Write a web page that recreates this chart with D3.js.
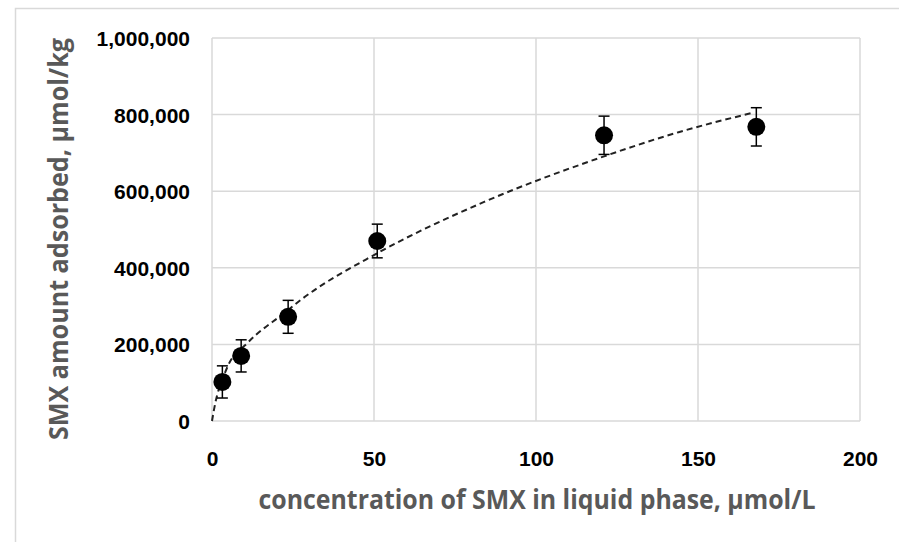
<!DOCTYPE html>
<html>
<head>
<meta charset="utf-8">
<script src="https://cdn.jsdelivr.net/npm/d3@7"></script>
<style>
  body { margin: 0; background: #fff; }
  svg { display: block; }
</style>
</head>
<body>
<div id="chart"></div>
<script>
// measured points (concentration in liquid phase, amount adsorbed, error)
var conc = [3.2, 9, 23.5, 51, 121, 168];
var adsorbed = [102000, 170000, 272000, 470000, 746000, 768000];
var errs = [42000, 42000, 43000, 44000, 50000, 50000];

// fitted dashed curve
var fitConc = [0, 0.6, 4.6, 11, 22, 28, 51, 84, 121, 144, 167];
var fitQ = [0, 29000, 138000, 204000, 280000, 320000, 438000, 572000, 691000, 754000, 805000];

var xTicks = [0, 50, 100, 150, 200];
var yTicks = [0, 200000, 400000, 600000, 800000, 1000000];

var W = 899, H = 542;
var plot = {left: 212, right: 860, top: 38, bottom: 421};

var svg = d3.select("#chart")
  .append("svg")
    .attr("width", W)
    .attr("height", H);

// outer frame
svg.append("rect")
  .attr("x", 15.5).attr("y", 8.5)
  .attr("width", W).attr("height", H)
  .attr("fill", "none")
  .attr("stroke", "#d9d9d9")
  .attr("stroke-width", 1.5);

var x = d3.scaleLinear().domain([0, 200]).range([plot.left, plot.right]);
var y = d3.scaleLinear().domain([0, 1000000]).range([plot.bottom, plot.top]);

// grid
svg.append("g")
  .selectAll("line")
  .data(xTicks)
  .join("line")
    .attr("x1", function(d) { return x(d); })
    .attr("x2", function(d) { return x(d); })
    .attr("y1", plot.top)
    .attr("y2", plot.bottom)
    .attr("stroke", "#d9d9d9")
    .attr("stroke-width", 1.5);

svg.append("g")
  .selectAll("line")
  .data(yTicks)
  .join("line")
    .attr("x1", plot.left)
    .attr("x2", plot.right)
    .attr("y1", function(d) { return y(d); })
    .attr("y2", function(d) { return y(d); })
    .attr("stroke", "#d9d9d9")
    .attr("stroke-width", 1.5);

// axes (labels only)
var fmt = d3.format(",");
var yAxis = svg.append("g")
  .attr("transform", "translate(" + (plot.left - 22) + ",0)")
  .call(d3.axisLeft(y).tickValues(yTicks).tickFormat(fmt).tickSize(0).tickPadding(0));
yAxis.select(".domain").remove();
yAxis.selectAll("text")
  .attr("dy", "0.36em")
  .style("font-family", "Liberation Sans, Arial, sans-serif")
  .style("font-weight", "bold")
  .style("font-size", "21px")
  .attr("fill", "#000");

var xAxis = svg.append("g")
  .attr("transform", "translate(0," + (plot.bottom + 30) + ")")
  .call(d3.axisBottom(x).tickValues(xTicks).tickSize(0).tickPadding(0));
xAxis.select(".domain").remove();
xAxis.selectAll("text")
  .attr("dy", "0.71em")
  .style("font-family", "Liberation Sans, Arial, sans-serif")
  .style("font-weight", "bold")
  .style("font-size", "21px")
  .attr("fill", "#000");

// axis titles
svg.append("text")
  .attr("x", 537)
  .attr("y", 509)
  .attr("text-anchor", "middle")
  .attr("textLength", 557)
  .attr("lengthAdjust", "spacingAndGlyphs")
  .style("font-family", "Open Sans, sans-serif")
  .style("font-weight", "bold")
  .style("font-size", "26px")
  .attr("fill", "#595959")
  .text("concentration of SMX in liquid phase, \u03bcmol/L");

svg.append("text")
  .attr("transform", "translate(68,239) rotate(-90)")
  .attr("text-anchor", "middle")
  .attr("textLength", 402)
  .attr("lengthAdjust", "spacingAndGlyphs")
  .style("font-family", "Open Sans, sans-serif")
  .style("font-weight", "bold")
  .style("font-size", "26px")
  .attr("fill", "#595959")
  .text("SMX amount adsorbed, \u03bcmol/kg");

// fitted curve
var fitData = fitConc.map(function(c, i) { return {c: c, q: fitQ[i]}; });
svg.append("path")
  .datum(fitData)
  .attr("fill", "none")
  .attr("stroke", "#222")
  .attr("stroke-width", 2)
  .attr("stroke-dasharray", "6,4")
  .attr("d", d3.line()
    .curve(d3.curveMonotoneX)
    .x(function(d) { return x(d.c); })
    .y(function(d) { return y(d.q); }));

// error bars + markers
var pts = conc.map(function(c, i) { return {c: c, q: adsorbed[i], e: errs[i]}; });
var g = svg.append("g").selectAll("g").data(pts).join("g");

g.append("line")
  .attr("x1", function(d) { return x(d.c); })
  .attr("x2", function(d) { return x(d.c); })
  .attr("y1", function(d) { return y(d.q + d.e); })
  .attr("y2", function(d) { return y(d.q - d.e); })
  .attr("stroke", "#000").attr("stroke-width", 1.5);

[1, -1].forEach(function(s) {
  g.append("line")
    .attr("x1", function(d) { return x(d.c) - 5.5; })
    .attr("x2", function(d) { return x(d.c) + 5.5; })
    .attr("y1", function(d) { return y(d.q + s * d.e); })
    .attr("y2", function(d) { return y(d.q + s * d.e); })
    .attr("stroke", "#000").attr("stroke-width", 1.5);
});

g.append("circle")
  .attr("cx", function(d) { return x(d.c); })
  .attr("cy", function(d) { return y(d.q); })
  .attr("r", 9)
  .attr("fill", "#000");
</script>
</body>
</html>
